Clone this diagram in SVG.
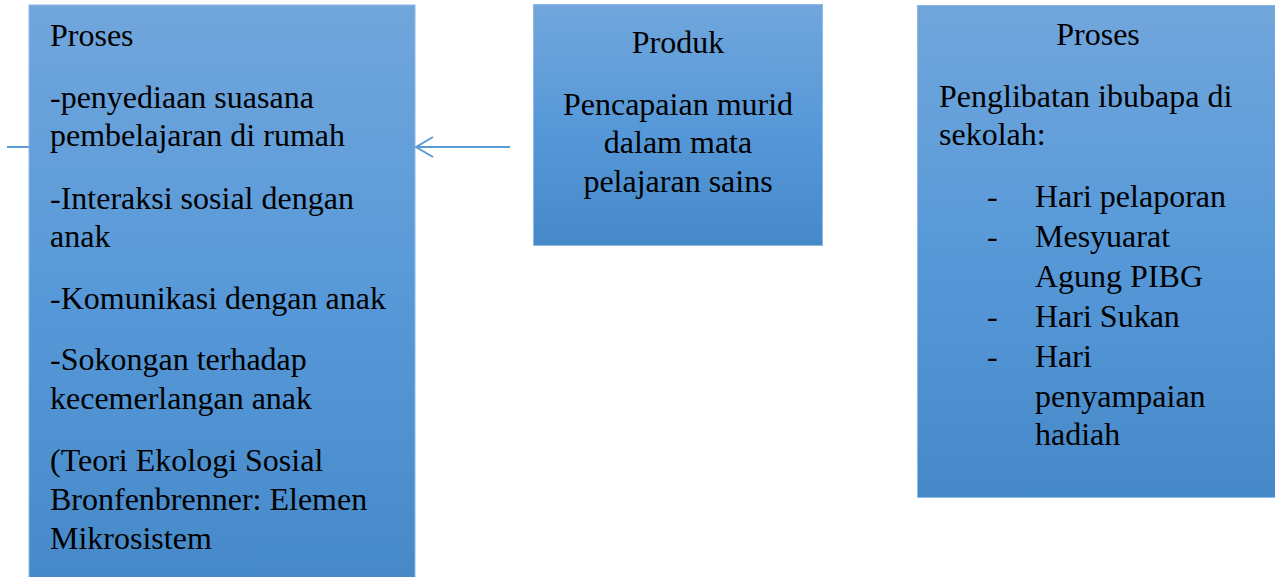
<svg xmlns="http://www.w3.org/2000/svg" width="1275" height="577" viewBox="0 0 1275 577" font-family="'Liberation Serif', 'DejaVu Serif', serif" font-size="32">
<defs>
<linearGradient id="g" x1="0" y1="0" x2="0" y2="1">
<stop offset="0" stop-color="#71a6dc"/>
<stop offset="0.5" stop-color="#5799d8"/>
<stop offset="1" stop-color="#4689c9"/>
</linearGradient>
<style>
.box{fill:url(#g);stroke:#8fb8e2;stroke-width:1}
text{font-family:'Liberation Serif','Times New Roman',serif;font-size:32px;fill:#000}
.c{text-anchor:middle}
.conn{fill:none;stroke:#5b9bd5;stroke-width:2}
</style>
</defs>
<rect width="1275" height="577" fill="#fff"/>
<g id="node-left">
<rect class="box" x="29" y="5" width="386" height="580"/>
<text x="50" y="46">Proses</text>
<text x="50" y="108">-penyediaan suasana</text>
<text x="50" y="146">pembelajaran di rumah</text>
<text x="50" y="209">-Interaksi sosial dengan</text>
<text x="50" y="247">anak</text>
<text x="50" y="309">-Komunikasi dengan anak</text>
<text x="50" y="370">-Sokongan terhadap</text>
<text x="50" y="409">kecemerlangan anak</text>
<text x="50" y="471">(Teori Ekologi Sosial</text>
<text x="50" y="510">Bronfenbrenner: Elemen</text>
<text x="50" y="549">Mikrosistem</text>
</g>
<g id="node-middle">
<rect class="box" x="533.5" y="4.5" width="289" height="241"/>
<text class="c" x="678" y="53">Produk</text>
<text class="c" x="678" y="115">Pencapaian murid</text>
<text class="c" x="678" y="153">dalam mata</text>
<text class="c" x="678" y="192">pelajaran sains</text>
</g>
<g id="node-right">
<rect class="box" x="917.5" y="5.5" width="362" height="492"/>
<text class="c" x="1098" y="45">Proses</text>
<text x="939" y="107">Penglibatan ibubapa di</text>
<text x="939" y="145">sekolah:</text>
<text x="987" y="207">-</text><text x="1035" y="207">Hari pelaporan</text>
<text x="987" y="247">-</text><text x="1035" y="247">Mesyuarat</text>
<text x="1035" y="287">Agung PIBG</text>
<text x="987" y="327">-</text><text x="1035" y="327">Hari Sukan</text>
<text x="987" y="367">-</text><text x="1035" y="367">Hari</text>
<text x="1035" y="407">penyampaian</text>
<text x="1035" y="445">hadiah</text>
</g>
<g id="connectors">
<path class="conn" d="M7 147 H29"/>
<path class="conn" stroke-opacity="0.2" d="M29 147 H120 M107 155 L120 147 L107 139"/>
<path class="conn" d="M510 147 H416 M433 137 L416 147 L433 157"/>
</g>
</svg>
